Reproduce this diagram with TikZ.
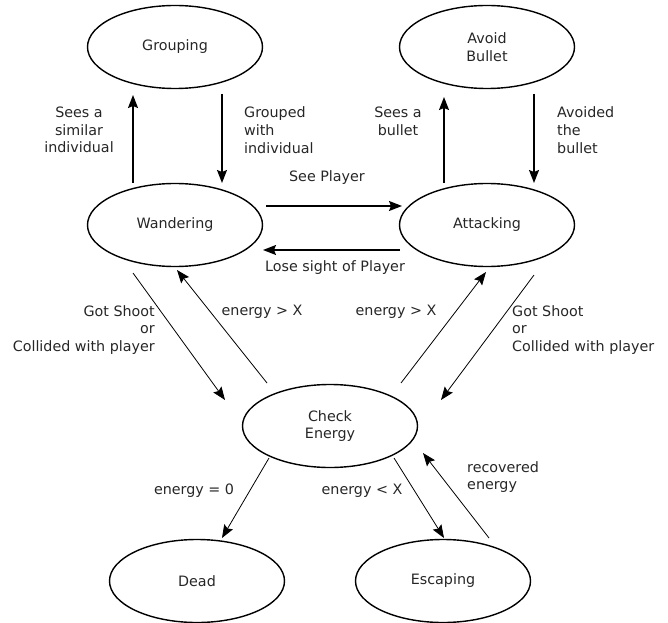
\documentclass[tikz,border=0pt]{standalone}
\usepackage{fontspec}
\setmainfont{DejaVu Sans}
\usetikzlibrary{arrows.meta,shapes.geometric}

\tikzset{
	state/.style={draw, ellipse, line width=1.4pt, minimum width=175pt, minimum height=83pt, inner sep=0pt, align=center},
	lbl/.style={inner sep=0pt},
	trans/.style={-{Stealth[length=13pt,width=10pt,inset=2pt]}, line width=1.5pt},
	diag/.style={-{Stealth[length=13pt,width=10pt,inset=2pt]}, line width=0.8pt},
}

\begin{document}
\begin{tikzpicture}[x=1pt, y=1pt, font=\fontsize{14.3}{17.7}\selectfont, text=black!85]
	\useasboundingbox (0,0) rectangle (668,622);

	\node[state] (group) at (175,575) {Grouping};
	\node[state] (avoid) at (487,575) {Avoid\\Bullet};
	\node[state] (wander) at (175,397) {Wandering};
	\node[state] (attack) at (487,397) {Attacking};
	\node[state] (check) at (330,196) {Check\\Energy};
	\node[state] (dead) at (197,41) {Dead};
	\node[state] (escape) at (443,41) {Escaping};

	% top row
	\draw[trans] ([shift={(-42,42)}]wander.center) -- ([shift={(-42,-48)}]group.center);
	\draw[trans] ([shift={(47,-47)}]group.center) -- ([shift={(47,42)}]wander.center);
	\draw[trans] ([shift={(-43,42)}]attack.center) -- ([shift={(-43,-50)}]avoid.center);
	\draw[trans] ([shift={(47,-47)}]avoid.center) -- ([shift={(47,42)}]attack.center);
	\draw[trans] ([shift={(91,19)}]wander.center) -- ([shift={(-85,19)}]attack.center);
	\draw[trans] ([shift={(-87,-25)}]attack.center) -- ([shift={(88,-25)}]wander.center);

	% to and from check energy
	\draw[diag] ([shift={(-42,-48)}]wander.center) -- ([shift={(-105,26)}]check.center);
	\draw[diag] ([shift={(-63,43)}]check.center) -- ([shift={(2,-45)}]wander.center);
	\draw[diag] ([shift={(71,43)}]check.center) -- ([shift={(-1,-47)}]attack.center);
	\draw[diag] ([shift={(47,-50)}]attack.center) -- ([shift={(111,26)}]check.center);
	\draw[diag] ([shift={(-61,-32)}]check.center) -- ([shift={(25,43)}]dead.center);
	\draw[diag] ([shift={(64,-32)}]check.center) -- ([shift={(1,43)}]escape.center);
	\draw[diag] ([shift={(46,43)}]escape.center) -- ([shift={(93,-27)}]check.center);

	% labels
	\node[lbl, align=center] (seesim) at (79,492) {Sees a\\similar\\individual};
	\node[lbl, align=left, anchor=west] (grouped) at (244,492) {Grouped\\with\\individual};
	\node[lbl, align=center] (seebul) at (398,501) {Sees a\\bullet};
	\node[lbl, align=left, anchor=west] (avoided) at (557,492) {Avoided\\the\\bullet};
	\node[lbl] (seeplayer) at (327,444) {See Player};
	\node[lbl] (losesight) at (335,354) {Lose sight of Player};
	\node[lbl, align=right, anchor=east] (shotl) at (155,292) {Got Shoot\\or\\Collided with player};
	\node[lbl] (enl) at (262,310) {energy > X};
	\node[lbl] (enr) at (396,310) {energy > X};
	\node[lbl, align=left, anchor=west] (shotr) at (512,292) {Got Shoot\\or\\Collided with player};
	\node[lbl] (enzero) at (194,131) {energy = 0};
	\node[lbl] (enless) at (362,131) {energy < X};
	\node[lbl, align=left, anchor=west] (recov) at (467,145) {recovered\\energy};
\end{tikzpicture}
\end{document}
